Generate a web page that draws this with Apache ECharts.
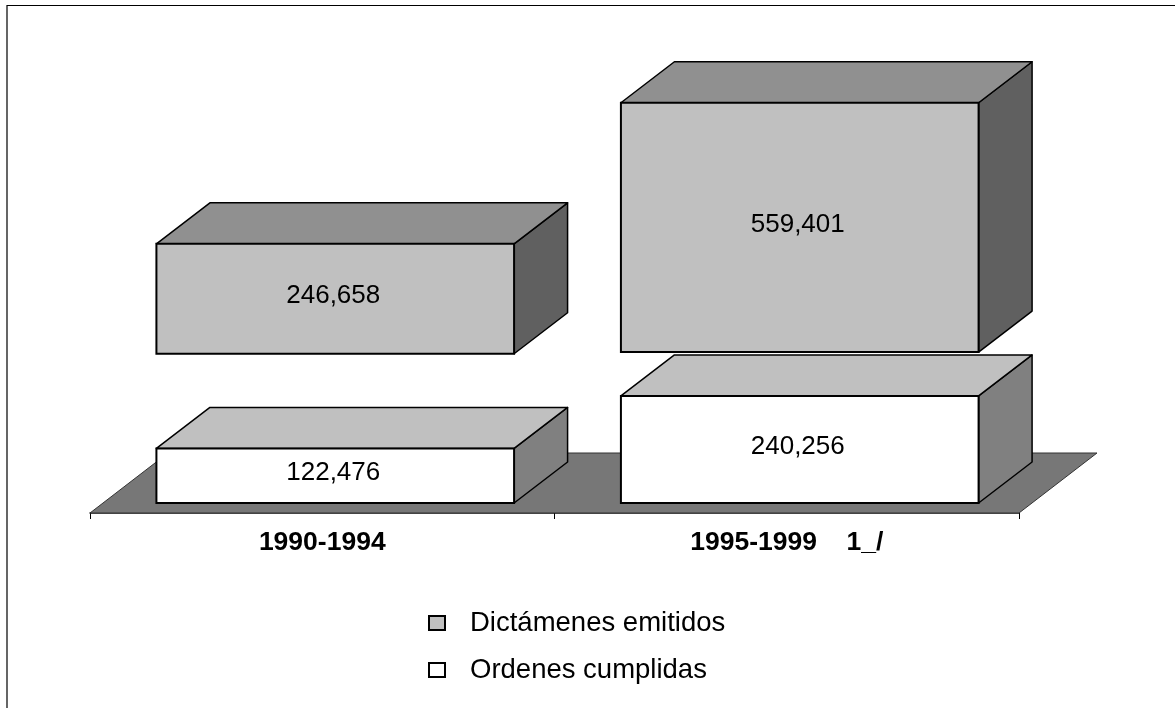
<!DOCTYPE html>
<html>
<head>
<meta charset="utf-8">
<style>
  html, body { margin: 0; padding: 0; background: #fff; }
  #chart { width: 1175px; height: 708px; }
</style>
<script src="https://cdn.jsdelivr.net/npm/echarts@6/dist/echarts.min.js"></script>
</head>
<body>
<div id="chart"></div>
<script>
const periods = ["1990-1994", "1995-1999    1_/"];
const dictamenes = [246658, 559401];
const ordenes = [122476, 240256];
// the upper boxes float above the floor instead of stacking on the lower ones
const dictamenesBase = [335000, 338800];
const ordenesBase = [0, 0];

const FONT = '"Liberation Sans", Arial, sans-serif';
// the front faces sit a little behind the floor's front edge
const INSET_X = 13;
const INSET_Y = 10;
const DEPTH_X = 53.5;
const DEPTH_Y = 41;
const BAR_RATIO = 0.77;

const box = (colors) => (params, api) => {
  const i = api.value(0);
  const base = api.value(2);
  const center = api.coord([i, 0])[0] + INSET_X;
  const w = api.size([1, 0])[0] * BAR_RATIO;
  const x0 = center - w / 2;
  const x1 = center + w / 2;
  const y0 = api.coord([i, base])[1] - INSET_Y;
  const y1 = api.coord([i, base + api.value(1)])[1] - INSET_Y;
  const stroke = { stroke: "#000", lineWidth: 1.5, lineJoin: "round" };
  return {
    type: "group",
    children: [
      {
        type: "polygon",
        shape: { points: [[x1, y0], [x1 + DEPTH_X, y0 - DEPTH_Y], [x1 + DEPTH_X, y1 - DEPTH_Y], [x1, y1]] },
        style: { fill: colors.side, ...stroke },
      },
      {
        type: "polygon",
        shape: { points: [[x0, y1], [x0 + DEPTH_X, y1 - DEPTH_Y], [x1 + DEPTH_X, y1 - DEPTH_Y], [x1, y1]] },
        style: { fill: colors.top, ...stroke },
      },
      {
        type: "rect",
        shape: { x: x0, y: y1, width: w, height: y0 - y1 },
        style: { fill: colors.front, stroke: "#000", lineWidth: 2 },
      },
      {
        type: "text",
        style: {
          x: center - 2,
          y: (y0 + y1) / 2 - 3,
          text: api.value(1).toLocaleString("en-US"),
          fill: "#000",
          font: "26px " + FONT,
          textAlign: "center",
          textVerticalAlign: "middle",
        },
      },
    ],
  };
};

const floor = (params) => {
  const { x, y, width, height } = params.coordSys;
  const front = y + height;
  return {
    type: "polygon",
    shape: {
      points: [[x, front], [x + 78, front - 60], [x + width + 78, front - 60], [x + width, front]],
    },
    style: { fill: "#777777", stroke: "#333", lineWidth: 1 },
  };
};

const chart = echarts.init(document.getElementById("chart"));
chart.setOption({
  animation: false,
  graphic: [
    {
      type: "polyline",
      shape: { points: [[7, 708], [7, 5.5], [1175, 5.5]] },
      style: { stroke: "#000", lineWidth: 1.2, fill: null },
    },
  ],
  grid: { left: 90, right: 156, top: 67.4, bottom: 195 },
  xAxis: {
    type: "category",
    data: periods,
    axisLine: { show: true, lineStyle: { color: "#222", width: 1.5 } },
    axisTick: { show: true, length: 6, lineStyle: { color: "#000", width: 1 } },
    axisLabel: { color: "#000", fontFamily: FONT, fontWeight: "bold", fontSize: 26.5, margin: 16 },
  },
  yAxis: { type: "value", min: 0, max: 1000000, show: false, splitLine: { show: false } },
  legend: {
    data: ["Dictámenes emitidos", "Ordenes cumplidas"],
    orient: "vertical",
    left: 423,
    top: 604,
    icon: "rect",
    itemWidth: 16,
    itemHeight: 14,
    itemGap: 19,
    selectedMode: false,
    textStyle: { color: "#000", fontFamily: FONT, fontSize: 27.5, padding: [0, 0, 4, 20] },
  },
  series: [
    {
      type: "custom",
      name: "floor",
      data: [0],
      renderItem: floor,
      silent: true,
    },
    {
      type: "custom",
      name: "Ordenes cumplidas",
      itemStyle: { color: "#ffffff", borderColor: "#000", borderWidth: 2 },
      data: ordenes.map((v, i) => [i, v, ordenesBase[i]]),
      renderItem: box({ front: "#ffffff", top: "#c0c0c0", side: "#808080" }),
    },
    {
      type: "custom",
      name: "Dictámenes emitidos",
      itemStyle: { color: "#c0c0c0", borderColor: "#000", borderWidth: 2 },
      data: dictamenes.map((v, i) => [i, v, dictamenesBase[i]]),
      renderItem: box({ front: "#c0c0c0", top: "#909090", side: "#606060" }),
    },
  ],
});
</script>
</body>
</html>
